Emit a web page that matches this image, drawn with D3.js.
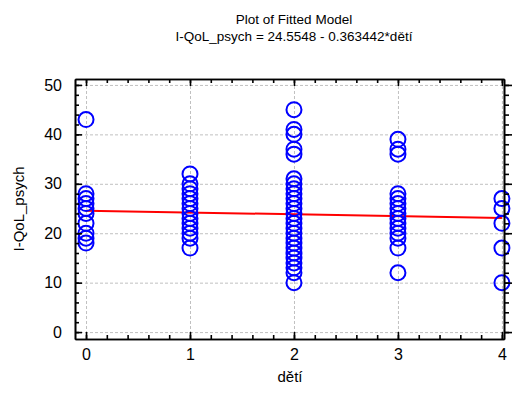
<!DOCTYPE html>
<html lang="en">
<head>
  <meta charset="UTF-8">
  <title>Plot of Fitted Model</title>
  <script src="https://d3js.org/d3.v7.min.js"></script>
  <style>
    body { margin: 0; background: #fff; }
    text { font-family: "Liberation Sans", Arial, sans-serif; fill: #000; }
    .grid line { stroke: #c0c0c0; stroke-dasharray: 3,2; stroke-width: 1; }
    .grid path { display: none; }
    .axis path, .axis line { stroke: #000; stroke-width: 1.6; }
    .axis text { font-size: 16px; }
  </style>
</head>
<body>
<svg id="chart"></svg>

<script>
  // observed values for each number of children (děti)
  var kids = [0, 1, 2, 3, 4];
  var psych0 = [43, 28, 27, 26, 25, 24, 22, 20, 19, 18];
  var psych1 = [32, 30, 29, 28, 27, 26, 25, 24, 23, 22, 21, 20, 19, 17];
  var psych2 = [45, 41, 40, 37, 36, 31, 30, 29, 28, 27, 26, 25, 24, 23, 22, 21, 20, 19, 18, 17, 16, 15, 14, 13, 12, 10];
  var psych3 = [39, 37, 36, 28, 27, 26, 25, 24, 23, 22, 21, 20, 19, 17, 12];
  var psych4 = [27, 25, 22, 17, 10];
  var xTicks = [0, 1, 2, 3, 4];
  var yTicks = [0, 10, 20, 30, 40, 50];
  var intercept = 24.5548, slope = -0.363442;

  var svgWidth = 513, svgHeight = 404;
  var pLeft = 75, pRight = 504, pTop = 79, pBottom = 339;

  var svg = d3.select("#chart").attr("width", svgWidth).attr("height", svgHeight);

  var x = d3.scaleLinear().domain([-0.106, 4.02]).range([pLeft, pRight]);
  var y = d3.scaleLinear().domain([-1.4, 51.2]).range([pBottom, pTop]);

  // gridlines
  svg.append("g").attr("class", "grid")
     .attr("transform", "translate(0," + pBottom + ")")
     .call(d3.axisBottom(x).tickValues(xTicks).tickSize(-(pBottom - pTop)).tickFormat(""));
  svg.append("g").attr("class", "grid")
     .attr("transform", "translate(" + pLeft + ",0)")
     .call(d3.axisLeft(y).tickValues(yTicks).tickSize(-(pRight - pLeft)).tickFormat(""));

  // regression line
  svg.append("path")
     .datum([0, 4])
     .attr("fill", "none")
     .attr("stroke", "#ff0000")
     .attr("stroke-width", 2)
     .attr("d", d3.line().x(function(d) { return x(d); })
                         .y(function(d) { return y(intercept + slope * d); }));

  // points
  var pts = [];
  [psych0, psych1, psych2, psych3, psych4].forEach(function(arr, i) {
    arr.forEach(function(v) { pts.push({ k: kids[i], v: v }); });
  });
  svg.selectAll(".dot")
     .data(pts)
     .enter().append("circle")
     .attr("class", "dot")
     .attr("cx", function(d) { return x(d.k); })
     .attr("cy", function(d) { return y(d.v); })
     .attr("r", 7.5)
     .attr("fill", "none")
     .attr("stroke", "#0000ff")
     .attr("stroke-width", 2);

  // axes with inward ticks
  var xMinor = d3.range(0, 4.001, 0.2);
  var yMinor = d3.range(0, 50.001, 2);

  svg.append("g").attr("class", "axis")
     .attr("transform", "translate(0," + pBottom + ")")
     .call(d3.axisBottom(x).tickValues(xTicks).tickSize(-7).tickSizeOuter(0).tickPadding(10).tickFormat(d3.format("d")));
  svg.append("g").attr("class", "axis")
     .attr("transform", "translate(0," + pBottom + ")")
     .call(d3.axisBottom(x).tickValues(xMinor).tickSize(-4).tickSizeOuter(0).tickFormat(""));
  svg.append("g").attr("class", "axis")
     .attr("transform", "translate(0," + pTop + ")")
     .call(d3.axisTop(x).tickValues(xTicks).tickSize(-7).tickSizeOuter(0).tickFormat(""));
  svg.append("g").attr("class", "axis")
     .attr("transform", "translate(0," + pTop + ")")
     .call(d3.axisTop(x).tickValues(xMinor).tickSize(-4).tickSizeOuter(0).tickFormat(""));

  svg.append("g").attr("class", "axis")
     .attr("transform", "translate(" + pLeft + ",0)")
     .call(d3.axisLeft(y).tickValues(yTicks).tickSize(-7).tickSizeOuter(0).tickPadding(13));
  svg.append("g").attr("class", "axis")
     .attr("transform", "translate(" + pLeft + ",0)")
     .call(d3.axisLeft(y).tickValues(yMinor).tickSize(-4).tickSizeOuter(0).tickFormat(""));
  svg.append("g").attr("class", "axis")
     .attr("transform", "translate(" + pRight + ",0)")
     .call(d3.axisRight(y).tickValues(yTicks).tickSize(8).tickSizeOuter(0).tickFormat(""));
  svg.append("g").attr("class", "axis")
     .attr("transform", "translate(" + pRight + ",0)")
     .call(d3.axisRight(y).tickValues(yMinor).tickSize(5).tickSizeOuter(0).tickFormat(""));

  // titles
  svg.append("text").attr("x", 294).attr("y", 24).attr("text-anchor", "middle")
     .attr("font-size", "13.5px").text("Plot of Fitted Model");
  svg.append("text").attr("x", 294).attr("y", 41).attr("text-anchor", "middle")
     .attr("font-size", "13.5px").text("I-QoL_psych = 24.5548 - 0.363442*dětí");

  svg.append("text").attr("x", 290).attr("y", 382).attr("text-anchor", "middle")
     .attr("font-size", "15px").text("dětí");
  svg.append("text").attr("transform", "translate(24,209) rotate(-90)")
     .attr("text-anchor", "middle").attr("font-size", "15px").text("I-QoL_psych");
</script>
</body>
</html>
